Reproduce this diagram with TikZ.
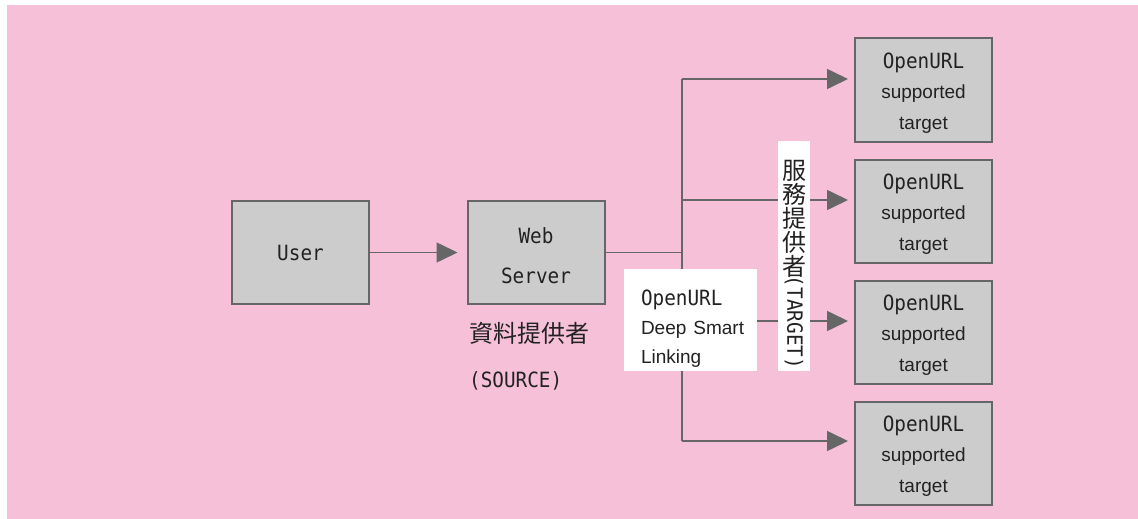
\documentclass[tikz,border=0pt]{standalone}
\usepackage{fontspec}
\usepackage{graphicx}
\usetikzlibrary{arrows.meta}
\setmainfont{Liberation Sans}
\newfontfamily\monofam[FakeStretch=0.92]{DejaVu Sans Mono}
\newfontfamily\cjkfam{Noto Sans CJK TC}
\newcommand\monof{\fontsize{21}{30.5}\selectfont\monofam}
\newcommand\sansf{\fontsize{19}{30.5}\selectfont\rmfamily}
\newcommand\cjkf{\fontsize{24}{24}\selectfont\cjkfam}
\newcommand\lift[1]{\rule{0pt}{#1}}
\definecolor{bgpink}{RGB}{246,192,216}
\definecolor{boxgray}{RGB}{204,204,204}
\definecolor{edge}{RGB}{102,102,102}
\definecolor{txt}{RGB}{34,34,34}
\tikzset{
  box/.style={draw=edge, line width=2pt, fill=boxgray, inner sep=0pt, align=center, text=txt, minimum width=137, minimum height=103, font=\monof},
  conn/.style={draw=edge, line width=1.6pt},
  arr/.style={conn, -{Triangle[length=21pt,width=20pt]}},
  wlab/.style={fill=white, inner sep=0pt, text=txt}
}
\begin{document}
\begin{tikzpicture}[x=1pt,y=-1pt]
\useasboundingbox (0,0) rectangle (1138,519);
\fill[white] (0,0) rectangle (1138,519);
\fill[bgpink] (7,5) rectangle (1138,519);

\node[box] (user) at (300.5,252.5) {User};
\node[box, font={\fontsize{21}{40}\selectfont\monofam}] (web) at (536,252.5) {\lift{22pt}Web\\Server};

\node[box] (t1) at (923.5,90) {\lift{21pt}OpenURL\\\sansf supported\\\sansf target};
\node[box] (t2) at (923.5,211) {\lift{21pt}OpenURL\\\sansf supported\\\sansf target};
\node[box] (t3) at (923.5,332) {\lift{21pt}OpenURL\\\sansf supported\\\sansf target};
\node[box] (t4) at (923.5,453) {\lift{21pt}OpenURL\\\sansf supported\\\sansf target};

\node[anchor=west, align=left, text=txt, inner sep=0pt, font={\fontsize{24}{45}\selectfont}] (src) at (469,356) {\cjkfam 資料提供者\\\monofam\fontsize{21}{45}\selectfont (SOURCE)};

\coordinate (j) at (682,252.5);
\coordinate (a1) at (682,79);
\coordinate (a2) at (682,200);
\coordinate (a3) at (682,321);
\coordinate (a4) at (682,441);

\draw[arr, shorten >=9pt] (user.east) -- (web.west);
\draw[conn] (web.east) -- (j);
\draw[conn] (a1) -- (a4);
\draw[arr, shorten >=6pt] (a1) -- (a1 -| t1.west);
\draw[arr, shorten >=6pt] (a2) -- (a2 -| t2.west);
\draw[arr, shorten >=6pt] (a3) -- (a3 -| t3.west);
\draw[arr, shorten >=6pt] (a4) -- (a4 -| t4.west);

\node[wlab, minimum width=133, minimum height=102, text width=99pt, inner xsep=17pt, align=left, font={\fontsize{21}{29}\selectfont\monofam}] (dsl) at (690.5,320) {\lift{32pt}OpenURL\\\fontsize{19}{29}\selectfont\rmfamily \mbox{Deep Smart}\\\fontsize{19}{29}\selectfont\rmfamily Linking};
\node[wlab, minimum width=32, minimum height=230, align=center, font=\cjkf] (tl) at (794,256) {\lift{37pt}服\\務\\提\\供\\者\\[-24pt]\rotatebox{-90}{\monof (TARGET)}};
\end{tikzpicture}
\end{document}
